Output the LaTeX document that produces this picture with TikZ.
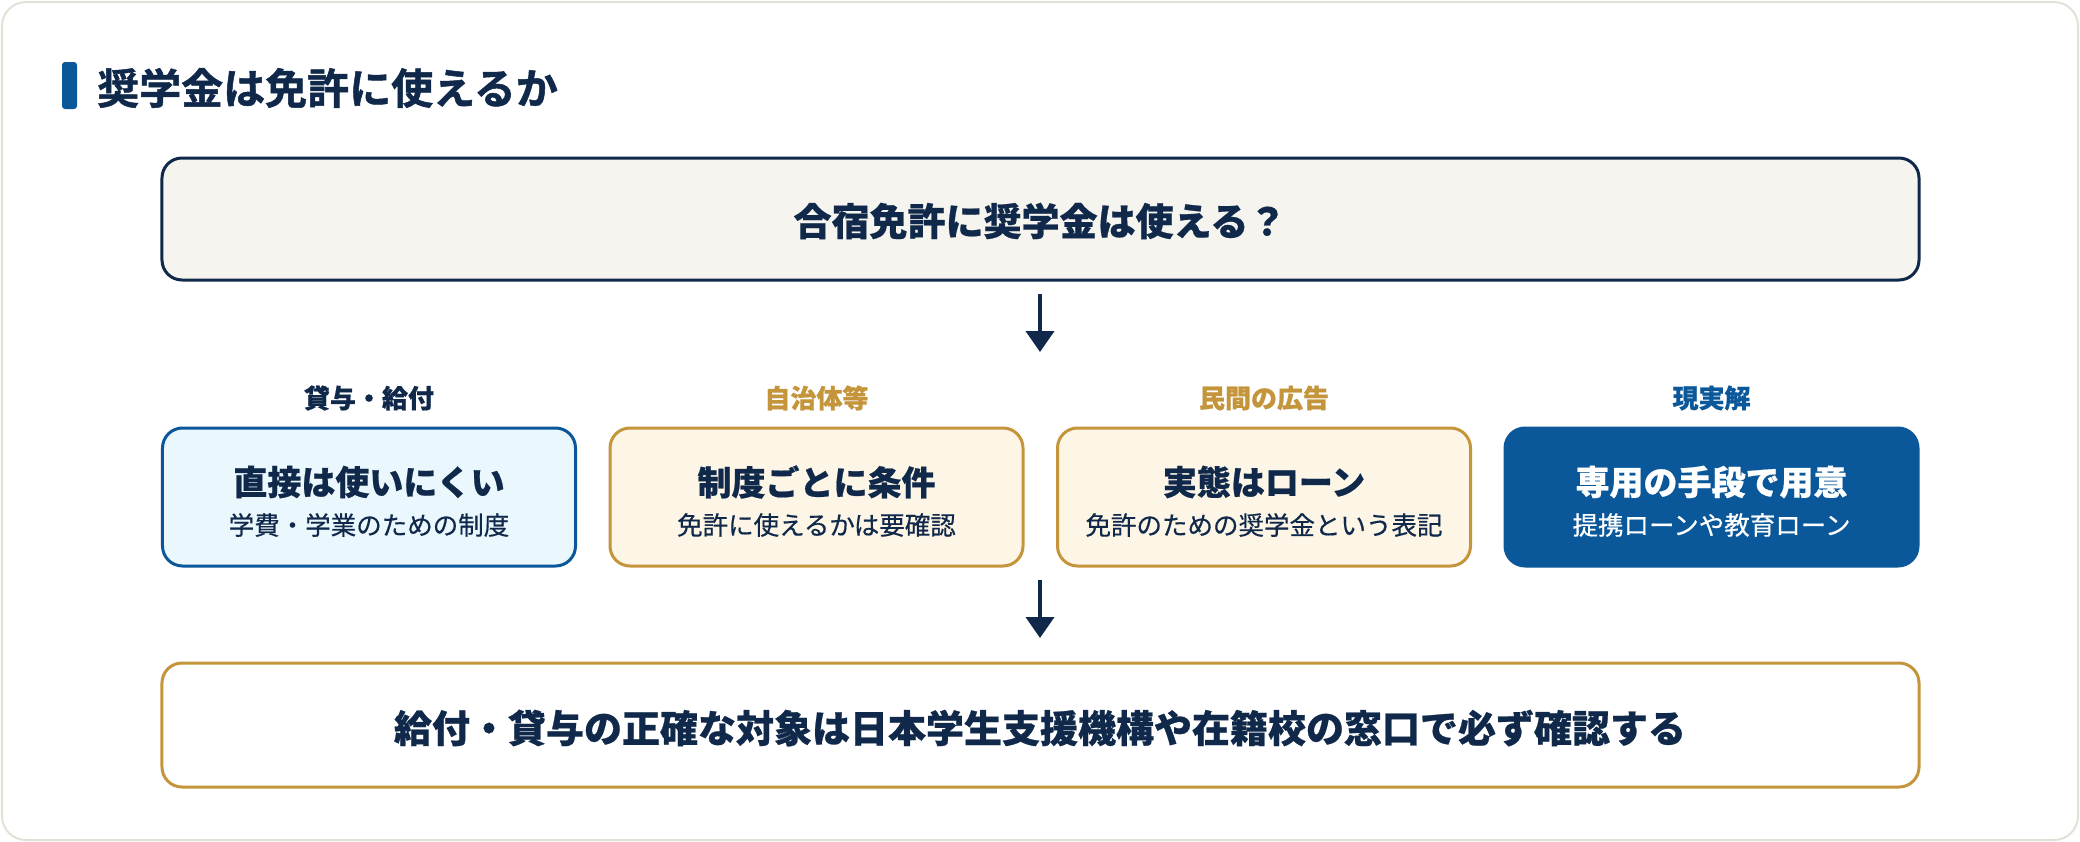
\documentclass[tikz,border=0pt]{standalone}
\usepackage{fontspec}
\setmainfont{Noto Sans CJK JP}[BoldFeatures={FakeBold=0.6}]
\newfontfamily\jpmed{Noto Sans CJK JP}[FakeBold=0.5]
\newfontfamily\jpheavy{Noto Sans CJK JP}[UprightFont={* Bold}, FakeBold=1.2]
\usetikzlibrary{arrows.meta}
\definecolor{navy}{HTML}{10294A}
\definecolor{blue}{HTML}{0A579A}
\definecolor{gold}{HTML}{C4953A}
\definecolor{framec}{HTML}{E3E1D7}
\definecolor{qfill}{HTML}{F5F4EF}
\definecolor{cfill}{HTML}{EAF7FD}
\definecolor{wfill}{HTML}{FDF5E6}
\newcommand{\fsz}[1]{\fontsize{#1bp}{#1bp}\selectfont}
\tikzset{
  frame/.style={draw=framec, line width=2bp, rounded corners=24bp, fill=white},
  bigbox/.style={line width=3bp, rounded corners=20bp, minimum width=1757bp, minimum height=122bp, inner sep=0pt},
  smallbox/.style={line width=3bp, rounded corners=20bp, minimum width=413bp, minimum height=138bp, inner sep=0pt},
  bigtext/.style={text=navy, font=\fsz{38}\bfseries, inner sep=0pt},
  maintext/.style={font=\fsz{34}\bfseries, inner sep=0pt},
  subtext/.style={font=\fsz{25.5}\jpmed, inner sep=0pt},
  labeltext/.style={font=\fsz{26}\bfseries, inner sep=0pt},
  arr/.style={draw=navy, line width=4bp, -{Triangle[width=28bp,length=21bp]}, shorten >=0pt}
}
\begin{document}
\begin{tikzpicture}[x=1bp,y=-1bp]
\useasboundingbox (0,0) rectangle (2080,842);
\path[frame] (2,2) rectangle (2078,840);
% title
\path[fill=blue, rounded corners=3bp] (62,62) rectangle (77,109);
\node[anchor=west, text=navy, font=\fsz{42}\jpheavy, inner sep=0pt] (title) at (97,88) {奨学金は免許に使えるか};
% top box
\node[bigbox, draw=navy, fill=qfill] (q) at (1040.5,219) {};
\node[bigtext] (qt) at (1040,221) {合宿免許に奨学金は使える？};
% arrow 1
\coordinate (a1s) at (1040,294);
\coordinate (a1e) at (1040,352);
\draw[arr] (a1s) -- (a1e);
% labels
\node[labeltext, text=navy] (l1) at (369,398) {貸与・給付};
\node[labeltext, text=gold] (l2) at (816.5,398) {自治体等};
\node[labeltext, text=gold] (l3) at (1264,398) {民間の広告};
\node[labeltext, text=blue] (l4) at (1711.5,398) {現実解};
% boxes
\node[smallbox, draw=blue, fill=cfill] (b1) at (369,497) {};
\node[smallbox, draw=gold, fill=wfill] (b2) at (816.5,497) {};
\node[smallbox, draw=gold, fill=wfill] (b3) at (1264,497) {};
\node[smallbox, draw=blue, fill=blue] (b4) at (1711.5,497) {};
\node[maintext, text=navy] (b1m) at (369,482) {直接は使いにくい};
\node[subtext, text=navy] (b1s) at (369,525) {学費・学業のための制度};
\node[maintext, text=navy] (b2m) at (816.5,482) {制度ごとに条件};
\node[subtext, text=navy] (b2s) at (816.5,525) {免許に使えるかは要確認};
\node[maintext, text=navy] (b3m) at (1264,482) {実態はローン};
\node[subtext, text=navy] (b3s) at (1264,525) {免許のための奨学金という表記};
\node[maintext, text=white] (b4m) at (1711.5,482) {専用の手段で用意};
\node[subtext, text=white] (b4s) at (1711.5,525) {提携ローンや教育ローン};
% arrow 2
\coordinate (a2s) at (1040,580);
\coordinate (a2e) at (1040,638);
\draw[arr] (a2s) -- (a2e);
% bottom box
\node[bigbox, draw=gold, fill=white, minimum height=124bp] (c) at (1040.5,725) {};
\node[bigtext] (ct) at (1040,728) {給付・貸与の正確な対象は日本学生支援機構や在籍校の窓口で必ず確認する};
\end{tikzpicture}
\end{document}
